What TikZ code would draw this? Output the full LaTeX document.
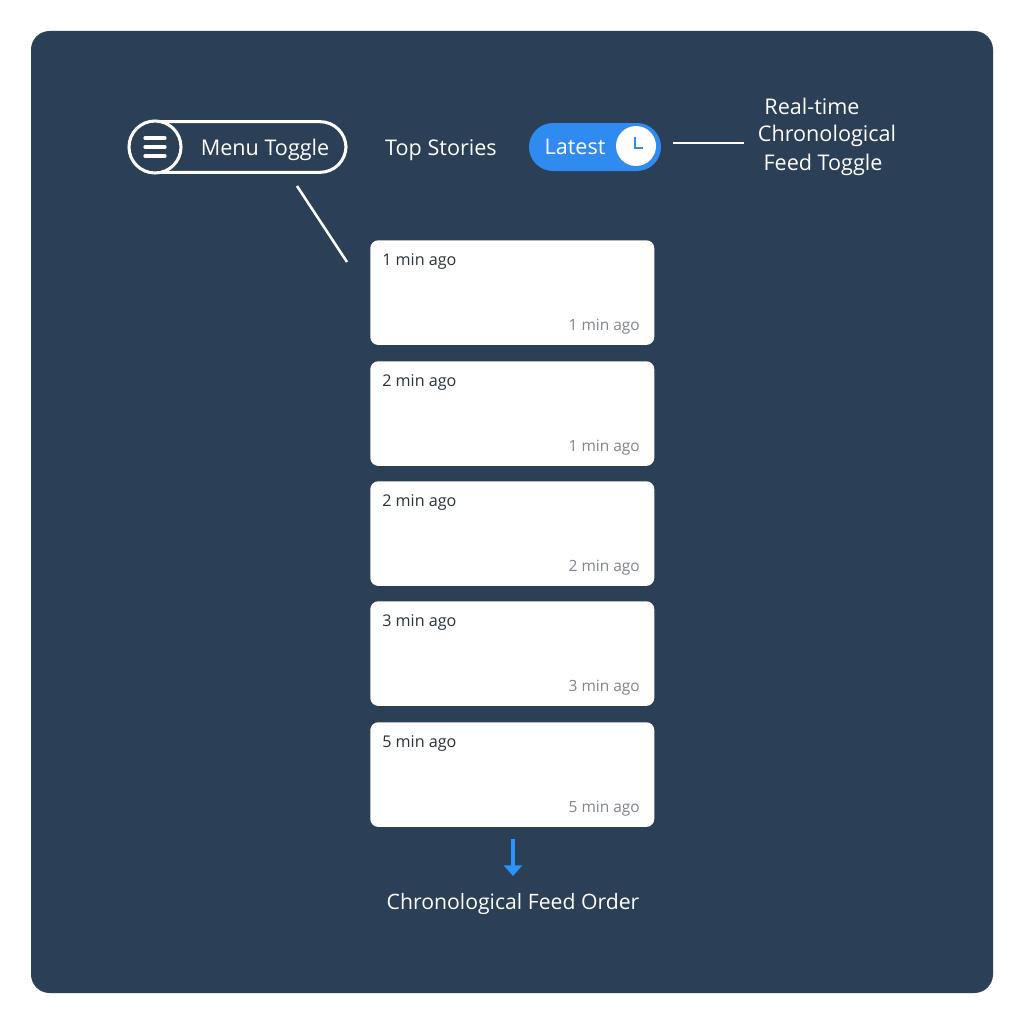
\documentclass[tikz,border=0pt]{standalone}
\usepackage{fontspec}
\setmainfont{Open Sans}
\usetikzlibrary{positioning, arrows.meta}

\definecolor{panelblue}{HTML}{2B3F57}
\definecolor{toggleblue}{HTML}{2F8BF0}
\definecolor{arrowblue}{HTML}{2C93F8}
\definecolor{cardtext}{HTML}{2A323C}
\definecolor{cardgrey}{HTML}{80868E}

\tikzset{
  whitetext/.style={text=white,font=\fontsize{16.2}{20}\selectfont,anchor=base,inner sep=0pt},
  cardbox/.style={fill=white,rounded corners=6pt,minimum width=213pt,minimum height=78.5pt,inner sep=0pt,anchor=north west},
  cardtop/.style={text=cardtext,font=\fontsize{12.1}{15}\selectfont,anchor=base west,inner sep=0pt},
  cardtime/.style={text=cardgrey,font=\fontsize{11.6}{15}\selectfont,anchor=base east,inner sep=0pt},
  callout/.style={draw=white,line width=2.2pt},
  bar/.style={draw=white,line width=2.5pt,line cap=round}
}

\begin{document}
\begin{tikzpicture}[x=0.75pt,y=-0.75pt]
\useasboundingbox (0,0) rectangle (1024,1024);

\fill[panelblue,rounded corners=14pt] (31,31) rectangle (993,993); % the panel

% top row
\node[draw=white,line width=2.3pt,rounded corners=19.5pt,minimum width=162pt,minimum height=38pt,inner sep=0pt] (menupill) at (238,147) {};
\node[draw=white,fill=panelblue,line width=2.3pt,circle,minimum size=39pt,inner sep=0pt] (menucircle) at (155,147) {};
\foreach \y in {138,147,156} % edit here for the bars
\draw[bar] (145,\y) -- (165,\y);
\node[whitetext] (menulabel) at (265,155) {Menu Toggle};
\node[whitetext] (toplabel) at (441,155) {Top Stories};

\node[fill=toggleblue,rounded corners=18pt,minimum width=99pt,minimum height=36pt,inner sep=0pt] (latestpill) at (595,147) {};
\node[whitetext] (latestlabel) at (575,154) {Latest};
\node[fill=white,circle,minimum size=30pt,inner sep=0pt] (clockface) at (636,146) {};
\draw[toggleblue,line width=1.6pt] (635,137) -- (635,148) -- (643,148);

\coordinate (latestend) at (673,143);
\coordinate (feedend) at (744,143);
\draw[callout] (latestend) -- (feedend);
\node[whitetext] (feedone) at (812,114) {Real-time};
\node[whitetext] (feedtwo) at (827,142) {Chronological};
\node[whitetext] (feedthree) at (823,170) {Feed Toggle};

\coordinate (menuend) at (297,186);
\coordinate (cardend) at (347,262);
\draw[draw=white,line width=1.9pt] (menuend) -- (cardend);

% cards
\foreach \y/\a/\b in {240/1/1,361/2/1,481/2/2,601/3/3,722/5/5}{
\node[cardbox] (card\y) at (370,\y) {};
\node[cardtop] (cardtop\y) at (382,\y+25) {\a{} min ago};
\node[cardtime] (cardtime\y) at (640,\y+90.5) {\b{} min ago};
}

% order
\coordinate (ordertop) at (513,839);
\coordinate (orderend) at (513,876);
\draw[arrowblue,line width=2.8pt,-{Triangle[width=13.5pt,length=8pt]}] (ordertop) -- (orderend);
\node[whitetext,font=\fontsize{15.9}{20}\selectfont] (orderlabel) at (513,909) {Chronological Feed Order};

\end{tikzpicture}
\end{document}
